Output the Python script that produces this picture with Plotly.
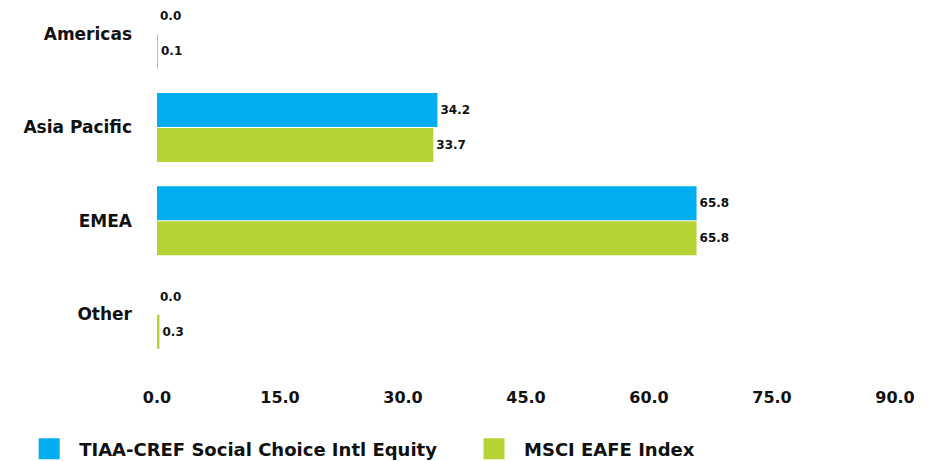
import plotly.graph_objects as go

categories = ["Americas", "Asia Pacific", "EMEA", "Other"]
fund_name = "TIAA-CREF Social Choice Intl Equity"
index_name = "MSCI EAFE Index"
fund_values = [0.0, 34.2, 65.8, 0.0]
index_values = [0.1, 33.7, 65.8, 0.3]
x_ticks = [0, 15, 30, 45, 60, 75, 90]

BLUE = "#00AEEF"
GREEN = "#B5D334"
FONT = "DejaVu Sans"
TXT = "#111111"

fig = go.Figure()
for name, vals, col, leg in [(fund_name, fund_values, BLUE, "legend"),
                             (index_name, index_values, GREEN, "legend2")]:
    fig.add_trace(go.Bar(
        y=categories, x=vals, orientation="h", name=name,
        marker=dict(color=col, line=dict(width=0)),
        texttemplate="%{x:.1f}", textposition="outside",
        textfont=dict(family=FONT, size=12, color=TXT, weight="bold"),
        cliponaxis=False, showlegend=False,
    ))
    fig.add_trace(go.Scatter(
        x=[None], y=[None], mode="markers", name=name, legend=leg,
        marker=dict(symbol="square", size=16, color=col, line=dict(color=col, width=6)),
        showlegend=True,
    ))

legend_style = dict(orientation="h", xref="container", yref="container",
                    xanchor="left", yanchor="middle", itemwidth=50,
                    bgcolor="rgba(0,0,0,0)",
                    font=dict(family=FONT, size=18, color=TXT, weight="bold"))

fig.update_layout(
    width=931, height=453,
    margin=dict(l=149, r=44, t=0, b=100, autoexpand=False),
    paper_bgcolor="white", plot_bgcolor="white",
    barmode="group", bargap=0.25, bargroupgap=0.03,
    font=dict(family=FONT, color=TXT),
    xaxis=dict(range=[0, 90], tickvals=x_ticks, tickformat=".1f",
               showgrid=False, zeroline=False, showline=False, automargin=False,
               tickfont=dict(family=FONT, size=16, color=TXT, weight="bold"),
               ticks="", ticklabelstandoff=25),
    yaxis=dict(categoryorder="array", categoryarray=categories,
               range=[3.5, -0.278], showgrid=False, zeroline=False, showline=False,
               automargin=False,
               tickfont=dict(family=FONT, size=17, color=TXT, weight="bold"),
               ticks="", ticklabelstandoff=24),
    legend=dict(x=0.012, y=0.0265, **legend_style),
    legend2=dict(x=0.4898, y=0.0265, **legend_style),
)

fig.write_html("out.html")
